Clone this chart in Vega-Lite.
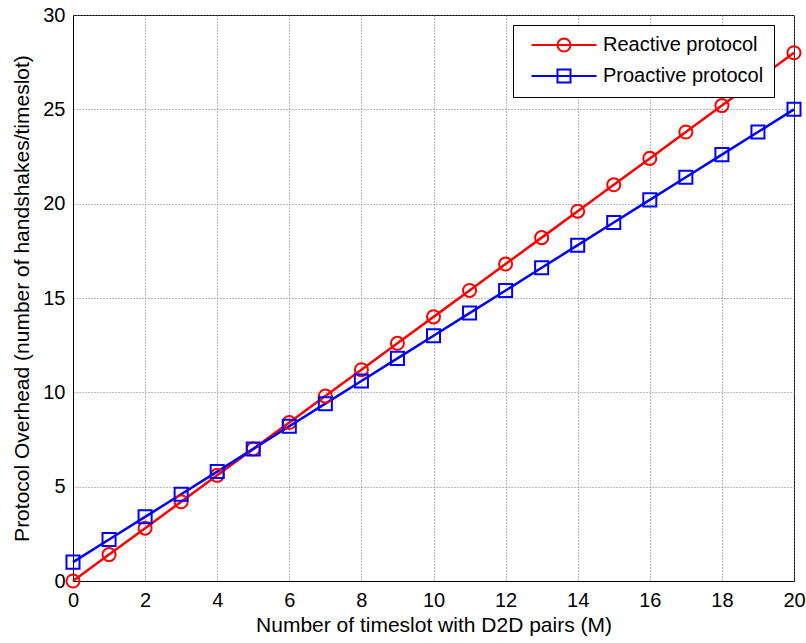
{
  "$schema": "https://vega.github.io/schema/vega-lite/v6.json",
  "width": 721,
  "height": 566,
  "autosize": "none",
  "padding": {"left": 73, "top": 15, "right": 12, "bottom": 62},
  "background": "white",
  "config": {
    "font": "Liberation Sans",
    "view": {"stroke": "black", "strokeWidth": 1},
    "axis": {
      "labelFont": "Liberation Sans",
      "titleFont": "Liberation Sans",
      "labelFontSize": 20,
      "titleFontSize": 21,
      "titleFontWeight": "normal",
      "labelColor": "black",
      "titleColor": "black",
      "domainColor": "black",
      "gridColor": "#7a7a7a",
      "gridDash": [1, 2],
      "gridWidth": 1,
      "ticks": false
    }
  },
  "data": {
    "values": [
      {"M": 0, "overhead": 0, "series": "Reactive protocol"},
      {"M": 1, "overhead": 1.4, "series": "Reactive protocol"},
      {"M": 2, "overhead": 2.8, "series": "Reactive protocol"},
      {"M": 3, "overhead": 4.2, "series": "Reactive protocol"},
      {"M": 4, "overhead": 5.6, "series": "Reactive protocol"},
      {"M": 5, "overhead": 7.0, "series": "Reactive protocol"},
      {"M": 6, "overhead": 8.4, "series": "Reactive protocol"},
      {"M": 7, "overhead": 9.8, "series": "Reactive protocol"},
      {"M": 8, "overhead": 11.2, "series": "Reactive protocol"},
      {"M": 9, "overhead": 12.6, "series": "Reactive protocol"},
      {"M": 10, "overhead": 14.0, "series": "Reactive protocol"},
      {"M": 11, "overhead": 15.4, "series": "Reactive protocol"},
      {"M": 12, "overhead": 16.8, "series": "Reactive protocol"},
      {"M": 13, "overhead": 18.2, "series": "Reactive protocol"},
      {"M": 14, "overhead": 19.6, "series": "Reactive protocol"},
      {"M": 15, "overhead": 21.0, "series": "Reactive protocol"},
      {"M": 16, "overhead": 22.4, "series": "Reactive protocol"},
      {"M": 17, "overhead": 23.8, "series": "Reactive protocol"},
      {"M": 18, "overhead": 25.2, "series": "Reactive protocol"},
      {"M": 19, "overhead": 26.6, "series": "Reactive protocol"},
      {"M": 20, "overhead": 28.0, "series": "Reactive protocol"},
      {"M": 0, "overhead": 1.0, "series": "Proactive protocol"},
      {"M": 1, "overhead": 2.2, "series": "Proactive protocol"},
      {"M": 2, "overhead": 3.4, "series": "Proactive protocol"},
      {"M": 3, "overhead": 4.6, "series": "Proactive protocol"},
      {"M": 4, "overhead": 5.8, "series": "Proactive protocol"},
      {"M": 5, "overhead": 7.0, "series": "Proactive protocol"},
      {"M": 6, "overhead": 8.2, "series": "Proactive protocol"},
      {"M": 7, "overhead": 9.4, "series": "Proactive protocol"},
      {"M": 8, "overhead": 10.6, "series": "Proactive protocol"},
      {"M": 9, "overhead": 11.8, "series": "Proactive protocol"},
      {"M": 10, "overhead": 13.0, "series": "Proactive protocol"},
      {"M": 11, "overhead": 14.2, "series": "Proactive protocol"},
      {"M": 12, "overhead": 15.4, "series": "Proactive protocol"},
      {"M": 13, "overhead": 16.6, "series": "Proactive protocol"},
      {"M": 14, "overhead": 17.8, "series": "Proactive protocol"},
      {"M": 15, "overhead": 19.0, "series": "Proactive protocol"},
      {"M": 16, "overhead": 20.2, "series": "Proactive protocol"},
      {"M": 17, "overhead": 21.4, "series": "Proactive protocol"},
      {"M": 18, "overhead": 22.6, "series": "Proactive protocol"},
      {"M": 19, "overhead": 23.8, "series": "Proactive protocol"},
      {"M": 20, "overhead": 25.0, "series": "Proactive protocol"}
    ]
  },
  "encoding": {
    "x": {
      "field": "M",
      "type": "quantitative",
      "scale": {"domain": [0, 20], "nice": false},
      "axis": {"values": [0, 2, 4, 6, 8, 10, 12, 14, 16, 18, 20], "title": "Number of timeslot with D2D pairs (M)", "labelPadding": 9, "titlePadding": 4, "labelFlush": false}
    },
    "y": {
      "field": "overhead",
      "type": "quantitative",
      "scale": {"domain": [0, 30], "nice": false},
      "axis": {"values": [0, 5, 10, 15, 20, 25, 30], "title": "Protocol Overhead (number of handshakes/timeslot)", "labelPadding": 8, "titlePadding": 10, "labelFlush": false}
    },
    "color": {
      "field": "series",
      "type": "nominal",
      "scale": {"domain": ["Reactive protocol", "Proactive protocol"], "range": ["#ff0000", "#0000ff"]},
      "legend": {
        "title": null,
        "orient": "none",
        "legendX": 440,
        "legendY": 10,
        "padding": 10,
        "fillColor": "white",
        "strokeColor": "black",
        "cornerRadius": 0,
        "labelFont": "Liberation Sans",
        "labelFontSize": 20,
        "labelColor": "black",
        "labelLimit": 400,
        "symbolSize": 169,
        "symbolStrokeWidth": 2,
        "symbolOffset": 31,
        "labelOffset": 29,
        "rowPadding": 9,
        "encode": {
          "symbols": {
            "update": {
              "shape": {"signal": "datum.value == 'Reactive protocol' ? 'M-5,0H5M1,0A1,1 0 1,1 -1,0A1,1 0 1,1 1,0Z' : 'M-5,0H5M-1,-1H1V1H-1Z'"},
              "fill": {"value": "transparent"}
            }
          }
        }
      }
    }
  },
  "layer": [
    {
      "mark": {"type": "line", "strokeWidth": 2.5}
    },
    {
      "transform": [{"filter": "datum.series == 'Reactive protocol'"}],
      "mark": {"type": "point", "shape": "circle", "filled": false, "size": 170, "strokeWidth": 2, "opacity": 1}
    },
    {
      "transform": [{"filter": "datum.series == 'Proactive protocol'"}],
      "mark": {"type": "point", "shape": "square", "filled": false, "size": 170, "strokeWidth": 2, "opacity": 1}
    }
  ]
}
